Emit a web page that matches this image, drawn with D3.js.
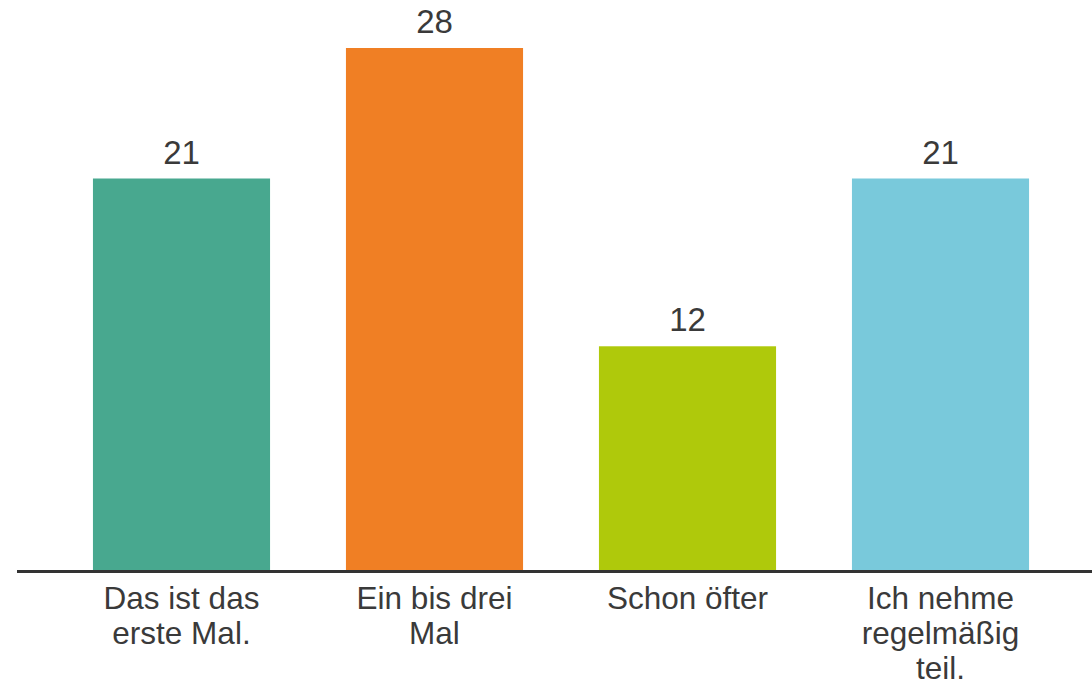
<!DOCTYPE html>
<html>
<head>
<meta charset="utf-8">
<script src="https://cdn.jsdelivr.net/npm/d3@7"></script>
<style>
  html, body { margin: 0; padding: 0; background: #fff; }
  svg { display: block; }
</style>
</head>
<body>
<svg id="chart" width="1092" height="688"></svg>
<script>
const categories = ["Das ist das erste Mal.", "Ein bis drei Mal", "Schon öfter", "Ich nehme regelmäßig teil."];
const labelLines = [["Das ist das", "erste Mal."], ["Ein bis drei", "Mal"], ["Schon öfter"], ["Ich nehme", "regelmäßig", "teil."]];
const values = [21, 28, 12, 21];
const colors = ["#48a88f", "#f07f24", "#afc90b", "#79c9db"];

const svg = d3.select("#chart");
const baseY = 570;

const x = d3.scaleBand().domain(categories).range([55, 1067]).paddingInner(0.3).paddingOuter(0.15);
const y = d3.scaleLinear().domain([0, 28]).range([baseY, 48]);

svg.selectAll("rect.bar").data(categories).join("rect")
  .attr("class", "bar")
  .attr("x", d => x(d))
  .attr("width", x.bandwidth())
  .attr("y", (d, i) => y(values[i]))
  .attr("height", (d, i) => baseY - y(values[i]))
  .attr("fill", (d, i) => colors[i]);

svg.selectAll("text.val").data(categories).join("text")
  .attr("class", "val")
  .attr("x", d => x(d) + x.bandwidth() / 2)
  .attr("y", (d, i) => y(values[i]) - 15)
  .attr("text-anchor", "middle")
  .attr("font-family", "'Liberation Sans Narrow', 'Arial Narrow', 'Liberation Sans', Arial, sans-serif")
  .attr("font-size", 33)
  .attr("fill", "#3a3a3a")
  .text((d, i) => values[i]);

// baseline axis
svg.append("line")
  .attr("x1", 17).attr("x2", 1092)
  .attr("y1", baseY + 1.5).attr("y2", baseY + 1.5)
  .attr("stroke", "#333").attr("stroke-width", 3);

const lab = svg.selectAll("text.cat").data(categories).join("text")
  .attr("class", "cat")
  .attr("text-anchor", "middle")
  .attr("font-family", "'Liberation Sans', Arial, sans-serif")
  .attr("font-size", 31.5)
  .attr("fill", "#3a3a3a");
lab.each(function(d, i) {
  const t = d3.select(this);
  labelLines[i].forEach((ln, j) => {
    t.append("tspan")
      .attr("x", x(d) + x.bandwidth() / 2)
      .attr("y", 609 + j * 35)
      .text(ln);
  });
});
</script>
</body>
</html>
